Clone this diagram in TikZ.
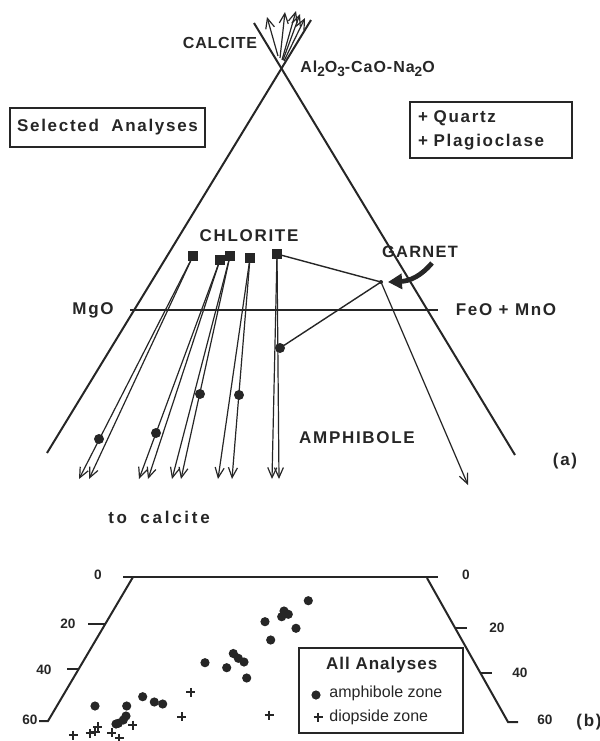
\documentclass[tikz,border=0pt]{standalone}
\usepackage{fontspec}
\setmainfont{Liberation Sans}
\usetikzlibrary{arrows.meta}
\definecolor{ink}{RGB}{38,38,38}
\newcommand{\lblfont}{\fontsize{8.5}{12}\selectfont\bfseries\addfontfeature{LetterSpace=10}}
\newcommand{\numfont}{\fontsize{6.8}{8}\selectfont\bfseries}
\newcommand{\lowsub}[1]{\raisebox{-2.2pt}{\fontsize{6.8}{7}\selectfont #1}}

\begin{document}
\begin{tikzpicture}[x=0.5pt,y=-0.5pt,color=ink,
  edge/.style={line width=1pt},
  proj/.style={line width=0.6pt,-{Straight Barb[length=5pt,width=4.5pt,line width=0.6pt]}},
  chl/.style={rectangle,fill=ink,minimum size=4.6pt,inner sep=0pt},
  amp/.style={circle,fill=ink,minimum size=5pt,inner sep=0pt},
  tag/.style={font=\lblfont,inner sep=1pt},
  boxed/.style={draw,line width=1pt,inner sep=0pt}]
\useasboundingbox (0,0) rectangle (600,741);

%%%%%%%%%% (a) triangle
\coordinate (lb) at (47,453);
\coordinate (lt) at (311,20);
\coordinate (rb) at (515,455);
\coordinate (rt) at (254,23);
\draw[edge] (lb) -- (lt);
\draw[edge] (rb) -- (rt);

\foreach \i/\sx/\sy/\tx/\ty in {1/278/56/267/17, 2/280/58/285/12, 3/282/60/296/11, 4/283/60/300/14, 5/284/61/305/18}{
  \coordinate (cs\i) at (\sx,\sy);
  \coordinate (ct\i) at (\tx,\ty);
  \draw[proj] (cs\i) -- (ct\i);
}
\node[tag,font=\fontsize{8}{9}\selectfont\bfseries\addfontfeature{LetterSpace=5}] (calcite) at (220,43) {CALCITE};
\node[tag,anchor=west,font=\fontsize{8}{9}\selectfont\bfseries\addfontfeature{LetterSpace=6}] (apexlbl) at (298,69)
  {Al\lowsub{2}O\lowsub{3}-CaO-Na\lowsub{2}O};

\node[boxed,font=\lblfont,minimum width=97.5pt,minimum height=19.5pt] (selbox) at (107.5,127.5) {Selected\hspace{3pt} Analyses};
\node[boxed,font=\lblfont,minimum width=81pt,minimum height=28pt,align=left,text width=73pt] (qzbox) at (491,130)
  {+ Quartz\\+ Plagioclase};

%%%%%%%%%% join line
\node[tag] (mgo) at (93,310) {MgO};
\node[tag] (feo) at (506,310) {FeO + MnO};
\coordinate (jl) at (130,310);
\coordinate (jr) at (438,310);
\draw[edge] (jl) -- (jr);

%%%%%%%%%% chlorite and amphibole
\node[tag] (chlorite) at (249,236) {CHLORITE};
\node[tag,font=\fontsize{8.2}{9}\selectfont\bfseries\addfontfeature{LetterSpace=8}] (garnetlbl) at (420,252) {GARNET};
\node[tag] (amphlbl) at (357,438) {AMPHIBOLE};
\node[tag] (alabel) at (565,461) {(a)};
\node[tag,font=\lblfont\addfontfeature{LetterSpace=16}] (tocalc) at (159,517) {to\hspace{3pt} calcite};

\foreach \i/\x/\y in {1/193/256, 2/220/260, 3/230/256, 4/250/258, 5/277/254}
  \node[chl] (chl\i) at (\x,\y) {};
\foreach \i/\xa/\xb in {1/79/89, 2/139/148, 3/172/181, 4/218/232, 5/272/279}{
  \coordinate (e\i a) at (\xa,479);
  \coordinate (e\i b) at (\xb,479);
  \draw[proj] (chl\i.center) -- (e\i a);
  \draw[proj] (chl\i.center) -- (e\i b);
}
\foreach \i/\x/\y in {1/99/439, 2/156/433, 3/200/394, 4/239/395, 5/280/348}
  \node[amp] (amp\i) at (\x,\y) {};

\coordinate (grt) at (381,282);
\coordinate (eg) at (468,485);
\fill (grt) circle[radius=2];
\draw[line width=0.7pt] (chl5.center) -- (grt) -- (amp5.center);
\draw[proj] (grt) -- (eg);
\coordinate (gtail) at (432,263);
\coordinate (ghead) at (388,282);
\draw[line width=2.4pt,-{Triangle[length=7pt,width=7.5pt]}] (gtail) .. controls (421,276) and (410,281) .. (ghead);

%%%%%%%%%% (b) trapezium
\coordinate (bl0) at (123,577);
\coordinate (br0) at (438,577);
\coordinate (blt) at (133,577);
\coordinate (bld) at (48,721);
\coordinate (brt) at (427,578);
\coordinate (brd) at (508,722);
\draw[edge] (bl0) -- (br0);
\draw[edge] (blt) -- (bld) -- ++(-9,0);
\draw[edge] (brt) -- (brd) -- ++(10,0);
\draw[edge] (105.3,624) -- ++(-17,0);
\draw[edge] (78.7,669) -- ++(-12,0);
\draw[edge] (455,628) -- ++(12,0);
\draw[edge] (480.4,673) -- ++(12,0);

\node[font=\numfont] (l0) at (98,575) {0};
\node[font=\numfont] (l20) at (68,624) {20};
\node[font=\numfont] (l40) at (44,670) {40};
\node[font=\numfont] (l60) at (30,720) {60};
\node[font=\numfont] (r0) at (466,575) {0};
\node[font=\numfont] (r20) at (497,628) {20};
\node[font=\numfont] (r40) at (520,673) {40};
\node[font=\numfont] (r60) at (545,720) {60};
\node[tag] (blabel) at (589,722) {(b)};

% amphibole zone
\foreach \x/\y in {95/706, 126.7/706, 126/716, 123.3/720, 118.3/723.3, 116/724, 142.7/696.7, 154.3/702, 162.7/704,
  205/662.7, 226.7/667.7, 233.3/653.5, 238.3/658.3, 244/662, 246.7/678, 265/621.7, 270.7/640, 281.7/616.7,
  284/611, 288.3/614.3, 296/628.3, 308.3/600.7}
  \fill (\x,\y) circle[radius=4.6];
% diopside zone
\foreach \x/\y in {190.7/692.3, 181.7/716.7, 269/715, 132.7/725, 97.7/726.7, 90/733.3, 95/731.7, 73.3/735, 111.7/732.7, 119.3/738.3}
  \draw[line width=0.9pt] (\x,\y) +(-4.5,0) -- +(4.5,0) (\x,\y) +(0,-4.5) -- +(0,4.5);

\node[boxed,minimum width=82pt,minimum height=42.5pt] (legend) at (381,690.5) {};
\node[font=\fontsize{8.5}{9}\selectfont\bfseries\addfontfeature{LetterSpace=6}] (legtitle) at (381.7,665) {All Analyses};
\fill (316,695) circle[radius=4.6];
\node[font=\fontsize{8}{9}\selectfont,anchor=west,inner sep=0pt] (legamp) at (329,693) {amphibole zone};
\draw[line width=0.9pt] (318,717) +(-4.5,0) -- +(4.5,0) (318,717) +(0,-4.5) -- +(0,4.5);
\node[font=\fontsize{8}{9}\selectfont,anchor=west,inner sep=0pt] (legdio) at (329,717) {diopside zone};
\end{tikzpicture}
\end{document}
